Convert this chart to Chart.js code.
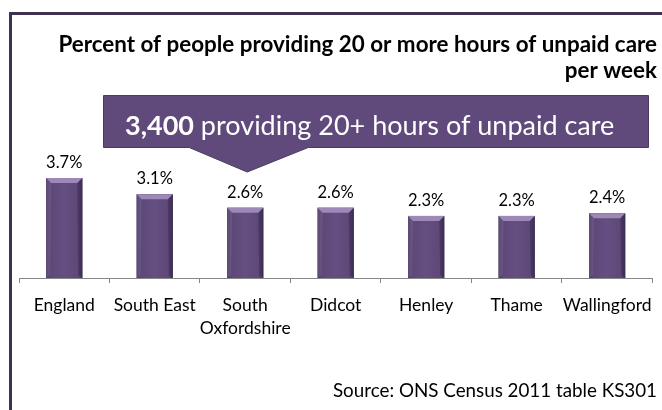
<!DOCTYPE html>
<html>
<head>
<meta charset="utf-8">
<script src="https://cdn.jsdelivr.net/npm/chart.js@4.4.1/dist/chart.umd.min.js"></script>
<style>
  html, body { margin: 0; padding: 0; background: #fff; }
  #wrap { width: 662px; height: 410px; }
</style>
</head>
<body>
<div id="wrap"><canvas id="care" width="662" height="410"></canvas></div>
<script>
const areas = ['England', 'South East', ['South', 'Oxfordshire'], 'Didcot', 'Henley', 'Thame', 'Wallingford'];
const percentCare = [3.7, 3.1, 2.6, 2.6, 2.3, 2.3, 2.4];

const titleLines = ['Percent of people providing 20 or more hours of unpaid care', 'per week'];
const calloutBold = '3,400';
const calloutText = ' providing 20+ hours of unpaid care';
const sourceText = 'Source: ONS Census 2011 table KS301';

const FONT = 'Lato, "Open Sans", sans-serif';
const purple = '#604a7b';

// frame, title, callout and source note
const decorations = {
    id: 'decorations',
    beforeDraw(chart) {
        const c = chart.ctx;
        c.save();
        c.fillStyle = '#fff';
        c.fillRect(0, 0, chart.width, chart.height);
        c.strokeStyle = '#3f3151';
        c.lineWidth = 3;
        c.strokeRect(10.5, 13.5, 700, 420);
        c.restore();
    },
    afterDraw(chart) {
        const c = chart.ctx;
        c.save();
        // title
        c.fillStyle = '#000';
        c.font = 'bold 22.4px ' + FONT;
        c.textAlign = 'right';
        c.textBaseline = 'alphabetic';
        c.fillText(titleLines[0], 657, 52);
        c.fillText(titleLines[1], 657, 78);

        // callout box with pointer at South Oxfordshire
        const tipX = chart.scales.x.getPixelForValue(2) + 2;
        c.beginPath();
        c.moveTo(103.5, 95.5);
        c.lineTo(648.5, 95.5);
        c.lineTo(648.5, 147.5);
        c.lineTo(tipX + 61, 147.5);
        c.lineTo(tipX, 172);
        c.lineTo(tipX - 58, 147.5);
        c.lineTo(103.5, 147.5);
        c.closePath();
        c.fillStyle = purple;
        c.fill();
        c.strokeStyle = '#4a3a60';
        c.lineWidth = 1;
        c.stroke();

        c.fillStyle = '#fff';
        c.textAlign = 'left';
        c.font = 'bold 27px ' + FONT;
        c.fillText(calloutBold, 125, 135);
        const w = c.measureText(calloutBold).width;
        c.font = '27px ' + FONT;
        c.fillText(calloutText, 125 + w, 135);

        // source
        c.fillStyle = '#000';
        c.textAlign = 'right';
        c.font = '18.8px ' + FONT;
        c.fillText(sourceText, 657, 397);
        c.restore();
    }
};

// shading on the bars plus value labels
const barLook = {
    id: 'barLook',
    afterDatasetsDraw(chart) {
        const c = chart.ctx;
        const meta = chart.getDatasetMeta(0);
        c.save();
        meta.data.forEach((bar, i) => {
            const left = bar.x - bar.width / 2;
            const right = bar.x + bar.width / 2;
            const top = bar.y;
            const bottom = bar.base;
            const g = c.createLinearGradient(left, 0, right, 0);
            g.addColorStop(0, '#4d3b65');
            g.addColorStop(0.12, '#5d4878');
            g.addColorStop(0.5, '#654f82');
            g.addColorStop(0.88, '#5d4878');
            g.addColorStop(1, '#48375f');
            c.fillStyle = g;
            c.fillRect(left, top, bar.width, bottom - top);
            // top bevel
            c.beginPath();
            c.moveTo(left, top);
            c.lineTo(right, top);
            c.lineTo(right - 5, top + 5);
            c.lineTo(left + 5, top + 5);
            c.closePath();
            c.fillStyle = '#9c89b8';
            c.fill();
            // side bevels
            c.fillStyle = 'rgba(40,28,58,0.35)';
            c.beginPath();
            c.moveTo(right, top);
            c.lineTo(right, bottom);
            c.lineTo(right - 4, bottom - 3);
            c.lineTo(right - 5, top + 5);
            c.closePath();
            c.fill();
            c.fillStyle = 'rgba(255,255,255,0.08)';
            c.beginPath();
            c.moveTo(left, top);
            c.lineTo(left, bottom);
            c.lineTo(left + 4, bottom - 3);
            c.lineTo(left + 5, top + 5);
            c.closePath();
            c.fill();

            c.fillStyle = '#000';
            c.font = '16.5px ' + FONT;
            c.textAlign = 'center';
            c.textBaseline = 'alphabetic';
            c.fillText(percentCare[i].toFixed(1) + '%', bar.x, top - 10);
        });
        c.restore();
    }
};

const ctx = document.getElementById('care').getContext('2d');
const careChart = new Chart(ctx, {
    type: 'bar',
    data: {
        labels: areas,
        datasets: [{
            label: 'Percent providing 20+ hours unpaid care',
            data: percentCare,
            backgroundColor: purple,
            borderWidth: 0,
            barPercentage: 0.4,
            categoryPercentage: 1
        }]
    },
    options: {
        responsive: false,
        animation: false,
        layout: { padding: { top: 143, left: 19, right: 0, bottom: 0 } },
        plugins: {
            legend: { display: false },
            tooltip: { enabled: false }
        },
        scales: {
            x: {
                afterFit: (scale) => { scale.height = 132; },
                border: { display: true, color: '#868686', width: 1 },
                grid: { offset: true, drawOnChartArea: false, tickLength: 5, color: '#868686' },
                ticks: {
                    color: '#000',
                    padding: 10.5,
                    maxRotation: 0,
                    autoSkip: false,
                    font: { family: FONT, size: 17.5, lineHeight: 1.31 }
                }
            },
            y: { display: false, min: 0, max: 5 }
        }
    },
    plugins: [decorations, barLook]
});
</script>
</body>
</html>
